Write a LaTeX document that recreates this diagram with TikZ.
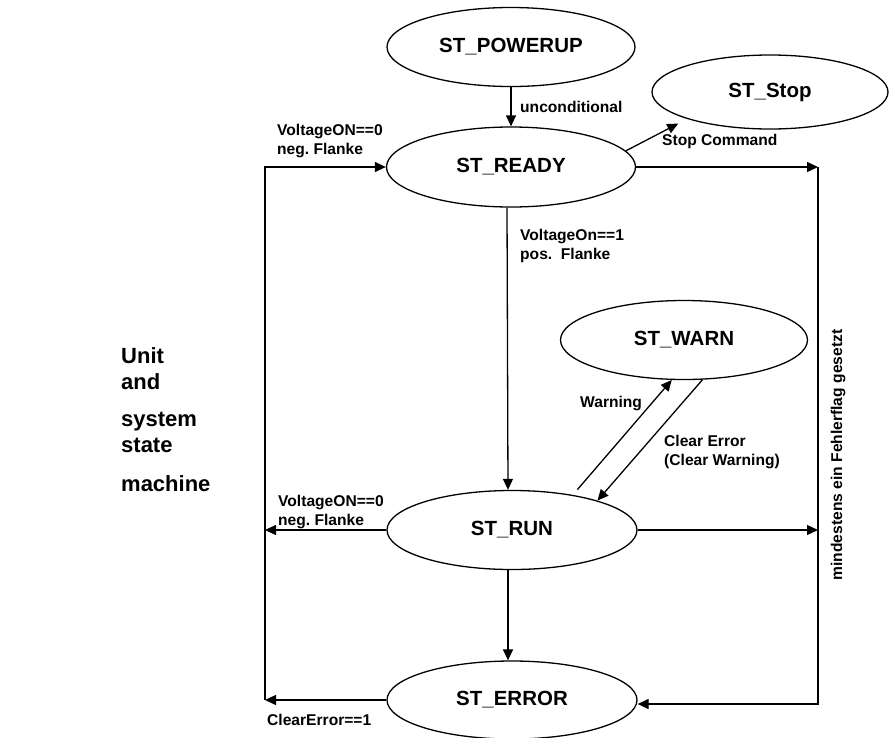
\documentclass[tikz,border=0pt]{standalone}
\usepackage{fontspec}
\setmainfont{Liberation Sans}
\usetikzlibrary{shapes.geometric,arrows.meta}
\frenchspacing
\begin{document}
\begin{tikzpicture}[x=1pt,y=-1pt,
  state/.style={draw, ellipse, line width=1.3pt, inner sep=0pt,
    font=\fontsize{20.5}{24}\selectfont\bfseries},
  lbl/.style={inner sep=0pt, anchor=west, align=left,
    font=\fontsize{15.6}{19}\selectfont\bfseries},
  wire/.style={line width=1.3pt},
  arr/.style={line width=1.3pt, -{Triangle[length=11pt,width=10pt]}}]
\useasboundingbox (0,0) rectangle (889,737);

% states
\node[state, minimum width=248pt, minimum height=79pt] (pu)   at (511,47)  {ST\_POWERUP};
\node[state, minimum width=236pt, minimum height=74pt] (stop) at (770,92)  {ST\_Stop};
\node[state, minimum width=249pt, minimum height=80pt] (rd)   at (511,167) {ST\_READY};
\node[state, minimum width=247pt, minimum height=79pt] (warn) at (684,340) {ST\_WARN};
\node[state, minimum width=250pt, minimum height=79pt] (run)  at (512,530) {ST\_RUN};
\node[state, minimum width=250pt, minimum height=78pt] (err)  at (512,700) {ST\_ERROR};

% corners of the two collecting buses
\coordinate (tl) at (265,167);
\coordinate (bl) at (265,700);
\coordinate (tr) at (818,167);
\coordinate (br) at (818,704);

% transitions
\draw[arr] (pu.south) -- (rd.north);
\draw[arr, shorten >=10pt] (rd.8) -- (stop.198);
\draw[arr] ([xshift=-4pt]rd.south) -- ([xshift=-4pt]run.north);
\draw[arr] ([xshift=-4pt]run.south) -- ([xshift=-4pt]err.north);
\draw[arr, shorten <=7pt] (run.30) -- (warn.253);
\draw[arr] (warn.295) -- (run.19);

% left bus: back to ST_READY
\draw[arr] (bl) -- (tl) -- (rd.west);
\draw[arr] (run.west) -- (run.west -| tl);
\draw[arr] (err.west) -- (bl);

% right bus: error flag set
\draw[arr] (rd.east) -- (tr);
\draw[arr] (run.east) -- (run.east -| tr);
\draw[arr] (tr) -- (br) -- ([yshift=-4pt]err.east);

% transition labels
\node[lbl] (lunc)  at (520,107) {unconditional};
\node[lbl] (lstop) at (662,141) {Stop Command};
\node[lbl] (lvon0) at (277,141) {VoltageON==0\\neg. Flanke};
\node[lbl] (lvon1) at (520,246) {VoltageOn==1\\pos.\ \ Flanke};
\node[lbl] (lwarn) at (580,403) {Warning};
\node[lbl] (lclr)  at (664,452) {Clear Error\\(Clear Warning)};
\node[lbl] (lvoff) at (278,512) {VoltageON==0\\neg. Flanke};
\node[lbl] (lcerr) at (267,720) {ClearError==1};
\node[lbl, anchor=center, rotate=90] (lflag) at (838,455) {mindestens ein Fehlerflag gesetzt};

% title
\node[anchor=north west, inner sep=0pt, align=left,
  font=\fontsize{22}{26}\selectfont\bfseries] (title) at (121,347)
  {Unit\\and\\[11pt]system\\state\\[13pt]machine};
\end{tikzpicture}
\end{document}
